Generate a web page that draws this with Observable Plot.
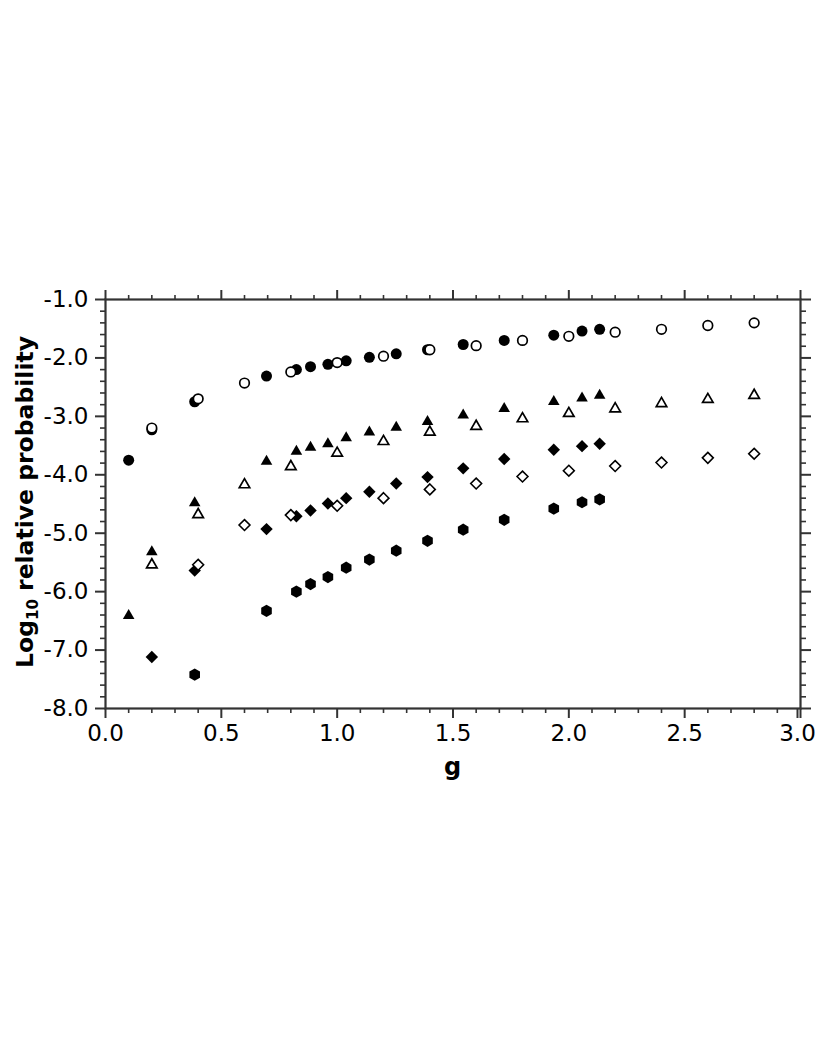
<!DOCTYPE html>
<html>
<head>
<meta charset="utf-8">
<script src="https://cdn.jsdelivr.net/npm/d3@7"></script>
<script src="https://cdn.jsdelivr.net/npm/@observablehq/plot@0.6"></script>
<style>
  html, body { margin: 0; padding: 0; background: #fff; }
  #chart svg { display: block; }
</style>
</head>
<body>
<div id="chart"></div>
<script>
// ---- data ----
const gFilled = [0.1, 0.2, 0.385, 0.695, 0.824, 0.885, 0.96, 1.039, 1.139, 1.255, 1.39, 1.544, 1.721, 1.935, 2.057, 2.133];
const gOpen = [0.2, 0.4, 0.6, 0.8, 1.0, 1.2, 1.4, 1.6, 1.8, 2.0, 2.2, 2.4, 2.6, 2.8];

const circleFilled = [-3.75, -3.23, -2.75, -2.31, -2.20, -2.15, -2.11, -2.05, -1.99, -1.93, -1.86, -1.77, -1.70, -1.61, -1.54, -1.51];
const triangleFilled = [-6.41, -5.32, -4.48, -3.77, -3.60, -3.53, -3.47, -3.37, -3.27, -3.19, -3.09, -2.98, -2.87, -2.75, -2.69, -2.64];
const diamondFilled = [-7.12, -5.64, -4.93, -4.71, -4.61, -4.49, -4.40, -4.29, -4.15, -4.04, -3.89, -3.73, -3.57, -3.51, -3.47]; // from g = 0.2
const hexagonFilled = [-7.42, -6.33, -6.00, -5.87, -5.75, -5.59, -5.45, -5.30, -5.13, -4.94, -4.77, -4.58, -4.47, -4.42]; // from g = 0.385

const circleOpen = [-3.20, -2.70, -2.43, -2.24, -2.08, -1.97, -1.86, -1.79, -1.70, -1.63, -1.56, -1.51, -1.445, -1.40];
const triangleOpen = [-5.54, -4.68, -4.17, -3.86, -3.63, -3.43, -3.27, -3.17, -3.04, -2.95, -2.87, -2.78, -2.71, -2.64];
const diamondOpen = [-5.54, -4.86, -4.69, -4.53, -4.40, -4.25, -4.15, -4.03, -3.93, -3.85, -3.79, -3.71, -3.64]; // from g = 0.4

const xMajor = [0.0, 0.5, 1.0, 1.5, 2.0, 2.5, 3.0];
const xMinor = [0.1, 0.2, 0.3, 0.4, 0.6, 0.7, 0.8, 0.9, 1.1, 1.2, 1.3, 1.4, 1.6, 1.7, 1.8, 1.9, 2.1, 2.2, 2.3, 2.4, 2.6, 2.7, 2.8, 2.9];
const yMajor = [-8.0, -7.0, -6.0, -5.0, -4.0, -3.0, -2.0, -1.0];
const yMinor = [-7.8, -7.6, -7.4, -7.2, -6.8, -6.6, -6.4, -6.2, -5.8, -5.6, -5.4, -5.2, -4.8, -4.6, -4.4, -4.2, -3.8, -3.6, -3.4, -3.2, -2.8, -2.6, -2.4, -2.2, -1.8, -1.6, -1.4, -1.2];

const xLabel = "g";
const yLabelParts = ["Log", "10", " relative probability"];

// ---- build tables ----
const pair = (xs, ys) => ys.map((y, i) => ({g: xs[i], v: y}));
const dCircleF = pair(gFilled, circleFilled);
const dTriF = pair(gFilled, triangleFilled);
const dDiaF = pair(gFilled.slice(1), diamondFilled);
const dHexF = pair(gFilled.slice(2), hexagonFilled);
const dCircleO = pair(gOpen, circleOpen);
const dTriO = pair(gOpen, triangleOpen);
const dDiaO = pair(gOpen.slice(1), diamondOpen);

const axisColor = "#333";
const blank = () => "";
const fmt = d => d.toFixed(1);
const xLast = xMajor[xMajor.length - 1];

const plot = Plot.plot({
  width: 817,
  height: 1058,
  marginLeft: 105,
  marginRight: 17,
  marginTop: 299,
  marginBottom: 350,
  style: {fontFamily: "'DejaVu Sans', sans-serif", fontSize: "23px", color: "#000", background: "#fff"},
  x: {domain: [0, 3]},
  y: {domain: [-8, -1]},
  marks: [
    // axes: bottom / top
    Plot.axisX({anchor: "bottom", ticks: xMajor, tickSize: 10, tickPadding: 6, tickFormat: d => (d === xLast ? "" : fmt(d)), label: null, stroke: axisColor, strokeWidth: 2, fontSize: 23}),
    Plot.axisX({anchor: "bottom", ticks: [xLast], tickSize: 10, tickPadding: 6, tickFormat: fmt, label: null, stroke: axisColor, strokeWidth: 2, fontSize: 23, dx: -3}),
    Plot.axisX({anchor: "bottom", ticks: xMinor, tickSize: 5, tickFormat: blank, label: null, stroke: axisColor, strokeWidth: 1.6}),
    Plot.axisX({anchor: "top", ticks: xMajor, tickSize: 10, tickFormat: blank, label: null, stroke: axisColor, strokeWidth: 2}),
    Plot.axisX({anchor: "top", ticks: xMinor, tickSize: 5, tickFormat: blank, label: null, stroke: axisColor, strokeWidth: 1.6}),
    // axes: left / right
    Plot.axisY({anchor: "left", ticks: yMajor, tickSize: 10, tickPadding: 7, tickFormat: fmt, label: null, stroke: axisColor, strokeWidth: 2, fontSize: 23}),
    Plot.axisY({anchor: "left", ticks: yMinor, tickSize: 5, tickFormat: blank, label: null, stroke: axisColor, strokeWidth: 1.6}),
    Plot.axisY({anchor: "right", ticks: yMajor, tickSize: 10, tickFormat: blank, label: null, stroke: axisColor, strokeWidth: 2}),
    Plot.axisY({anchor: "right", ticks: yMinor, tickSize: 5, tickFormat: blank, label: null, stroke: axisColor, strokeWidth: 1.6}),
    Plot.frame({stroke: axisColor, strokeWidth: 2.2}),
    // filled series
    Plot.dot(dCircleF, {x: "g", y: "v", symbol: "circle", r: 5.5, fill: "black"}),
    Plot.dot(dTriF, {x: "g", y: "v", symbol: "triangle", r: 4.3, fill: "black"}),
    Plot.dot(dDiaF, {x: "g", y: "v", symbol: "diamond2", r: 5.6, fill: "black"}),
    Plot.dot(dHexF, {x: "g", y: "v", symbol: "hexagon", r: 5.3, fill: "black"}),
    // open series
    Plot.dot(dCircleO, {x: "g", y: "v", symbol: "circle", r: 4.8, fill: "white", stroke: "black", strokeWidth: 1.7}),
    Plot.dot(dTriO, {x: "g", y: "v", symbol: "triangle", r: 3.9, fill: "white", stroke: "black", strokeWidth: 1.7}),
    Plot.dot(dDiaO, {x: "g", y: "v", symbol: "diamond2", r: 4.9, fill: "white", stroke: "black", strokeWidth: 1.6})
  ]
});

document.getElementById("chart").appendChild(plot);

// axis titles (with subscript)
const svg = d3.select(plot);
svg.append("text")
  .attr("x", 452.5)
  .attr("y", 775)
  .attr("text-anchor", "middle")
  .attr("font-family", "'DejaVu Sans', sans-serif")
  .attr("font-weight", "bold")
  .attr("font-size", 24)
  .attr("fill", "#000")
  .text(xLabel);

const yl = svg.append("text")
  .attr("transform", "translate(33,502) rotate(-90)")
  .attr("text-anchor", "middle")
  .attr("font-family", "'DejaVu Sans', sans-serif")
  .attr("font-weight", "bold")
  .attr("font-size", 23.5)
  .attr("fill", "#000");
yl.append("tspan").text(yLabelParts[0]);
yl.append("tspan").attr("font-size", 15).attr("dy", 5).text(yLabelParts[1]);
yl.append("tspan").attr("dy", -5).text(yLabelParts[2]);
</script>
</body>
</html>
